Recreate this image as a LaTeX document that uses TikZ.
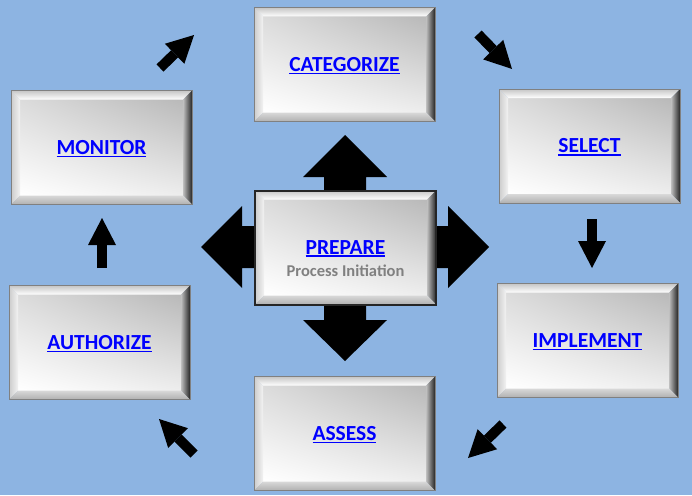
\documentclass[tikz,border=0pt]{standalone}
\usepackage{fontspec}
\setmainfont{Carlito}
\usetikzlibrary{arrows.meta,calc,shadings}
\definecolor{bgblue}{RGB}{141,180,226}
\definecolor{subgray}{RGB}{128,128,128}
\newcommand{\myul}[1]{\setbox0\hbox{#1}\rlap{\rule[-3pt]{\wd0}{1.8pt}}\box0}
\newcommand{\rmflabel}[1]{\raisebox{-6.8pt}[0pt][0pt]{\makebox[0pt]{\myul{#1}}}}
\tikzset{
  bevelbox/.style={rectangle, minimum width=181pt, minimum height=114pt, inner sep=0pt,
    draw=gray, line width=0.8pt, text=blue, font=\fontsize{21.5}{24}\selectfont\bfseries,
    path picture={
      \path (path picture bounding box.north west) coordinate (pNW)
            (path picture bounding box.north east) coordinate (pNE)
            (path picture bounding box.south west) coordinate (pSW)
            (path picture bounding box.south east) coordinate (pSE);
      \path ([xshift=9pt,yshift=-9pt]pNW) coordinate (iNW)
            ([xshift=-9pt,yshift=-9pt]pNE) coordinate (iNE)
            ([xshift=9pt,yshift=9pt]pSW) coordinate (iSW)
            ([xshift=-9pt,yshift=9pt]pSE) coordinate (iSE);
      \shade[upper left=gray!28, upper right=gray!55, lower left=white, lower right=gray!14] (iNW) rectangle (iSE);
      \shade[top color=gray!45, bottom color=white] (pNW) -- (pNE) -- (iNE) -- (iNW) -- cycle;
      \shade[left color=gray!40, right color=white!90!gray] (pNW) -- (iNW) -- (iSW) -- (pSW) -- cycle;
      \shade[left color=gray!50, right color=black!85] (pNE) -- (pSE) -- (iSE) -- (iNE) -- cycle;
      \shade[top color=gray!30, bottom color=gray!62] (pSW) -- (iSW) -- (iSE) -- (pSE) -- cycle;
    }},
  flowarrow/.style={black, line width=10pt, -{Triangle[length=27pt,width=28pt,line width=0pt]}}
}
\begin{document}
\begin{tikzpicture}[x=1pt,y=-1pt]
\useasboundingbox (0,0) rectangle (692,495);
\fill[bgblue] (0,0) rectangle (692,495);
% central four-way arrow
\fill[black] (324,177) -- (303,177) -- (345,135) -- (387,177) -- (366,177) -- (366,226)
  -- (448,226) -- (448,206) -- (489,247) -- (448,288) -- (448,268) -- (366,268)
  -- (366,320) -- (387,320) -- (345,361) -- (303,320) -- (324,320) -- (324,268)
  -- (242,268) -- (242,288) -- (201,247) -- (242,206) -- (242,226) -- (324,226) -- cycle;
% boxes
\node[bevelbox] (cat) at (344.5,64.5) {\rmflabel{CATEGORIZE}};
\node[bevelbox] (sel) at (589.5,146) {\rmflabel{SELECT}};
\node[bevelbox] (imp) at (587.5,340.5) {\rmflabel{IMPLEMENT}};
\node[bevelbox] (ass) at (344.5,433.5) {\rmflabel{ASSESS}};
\node[bevelbox] (aut) at (99.5,342.5) {\rmflabel{AUTHORIZE}};
\node[bevelbox] (mon) at (101.5,147.5) {\rmflabel{MONITOR}};
\node[bevelbox, draw=black!85, line width=2pt] (prep) at (345.5,247.5)
  {\raisebox{-6.5pt}[0pt][0pt]{\makebox[0pt]{\myul{PREPARE}}}\raisebox{-29pt}[0pt][0pt]{\makebox[0pt]{\color{subgray}\fontsize{16.5}{16}\selectfont Process Initiation}}};
% cycle arrows
\coordinate (a1s) at (160,68);  \coordinate (a1e) at (194,35);
\coordinate (a2s) at (478,34);  \coordinate (a2e) at (512,69);
\coordinate (a3s) at (592,219); \coordinate (a3e) at (592,268);
\coordinate (a4s) at (503,424); \coordinate (a4e) at (468,458);
\coordinate (a5s) at (194,454); \coordinate (a5e) at (159,419);
\coordinate (a6s) at (102,268); \coordinate (a6e) at (102,218);
\draw[flowarrow] (a1s) -- (a1e);
\draw[flowarrow] (a2s) -- (a2e);
\draw[flowarrow] (a3s) -- (a3e);
\draw[flowarrow] (a4s) -- (a4e);
\draw[flowarrow] (a5s) -- (a5e);
\draw[flowarrow] (a6s) -- (a6e);
\end{tikzpicture}
\end{document}
